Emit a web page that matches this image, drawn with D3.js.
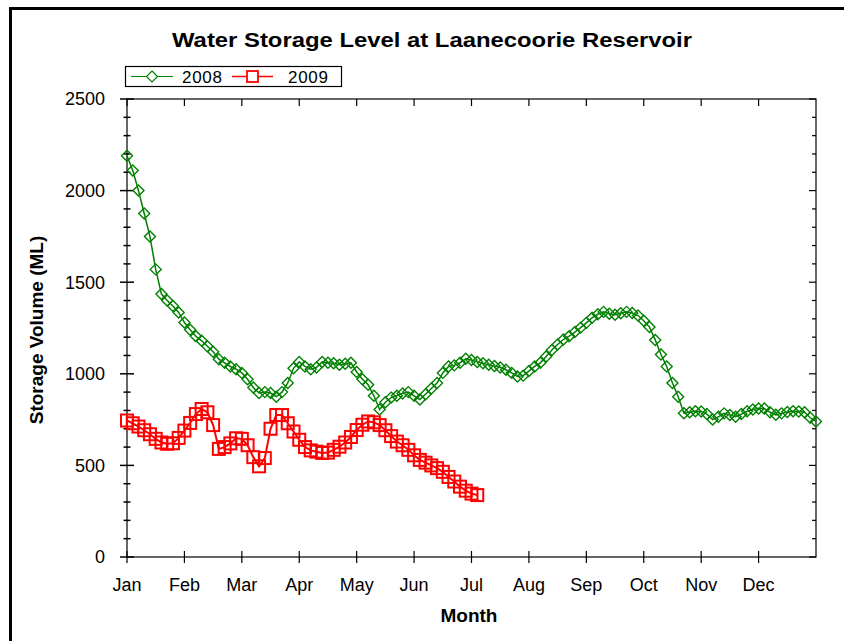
<!DOCTYPE html>
<html><head><meta charset="utf-8">
<script src="https://cdn.jsdelivr.net/npm/d3@7"></script>
<style>body{margin:0;background:#fff}svg{display:block}text{font-family:"Liberation Sans",Arial,sans-serif}</style>
</head><body>
<svg id="c" width="844" height="641"></svg>
<script>
const months = ["Jan","Feb","Mar","Apr","May","Jun","Jul","Aug","Sep","Oct","Nov","Dec"];
const yTicks = [0,500,1000,1500,2000,2500];
const stepMonths = 0.1;
const storage2008 = [2190,2110,2000,1875,1749,1570,1435,1400,1370,1335,1280,1240,1205,1180,1150,1120,1080,1060,1040,1025,
1005,970,925,895,900,895,875,900,950,1030,1065,1040,1025,1035,1065,1060,1057,1050,1055,1060,
1010,970,940,880,805,845,870,880,893,900,880,860,888,920,950,1005,1040,1046,1060,1082,
1075,1065,1057,1050,1042,1035,1022,1005,985,990,1015,1040,1060,1095,1130,1160,1187,1205,1228,1252,
1278,1306,1325,1338,1328,1322,1330,1338,1332,1318,1290,1255,1185,1105,1040,950,875,785,790,795,
794,780,750,765,784,775,766,780,795,805,810,810,790,776,784,792,795,794,790,760,740];
const storage2009 = [745,730,712,692,670,645,625,618,621,650,690,732,780,808,790,720,590,600,620,648,
645,610,545,495,540,700,775,775,730,685,640,600,582,575,568,570,585,602,625,655,
693,722,740,735,720,692,660,630,610,585,555,530,515,500,485,465,437,412,384,362,346,338];

const svg = d3.select("#c");
const x = d3.scaleLinear().domain([0,12]).range([127,816]);
const y = d3.scaleLinear().domain([0,2500]).range([557,99]);

// frame
svg.append("line").attr("x1",9).attr("x2",844).attr("y1",8.5).attr("y2",8.5).attr("stroke","#000").attr("stroke-width",3);
svg.append("line").attr("x1",10.5).attr("x2",10.5).attr("y1",7).attr("y2",641).attr("stroke","#000").attr("stroke-width",3);

// title
svg.append("text").attr("x",432).attr("y",47).attr("text-anchor","middle")
  .attr("font-size",20).attr("font-weight","bold").attr("textLength",520).attr("lengthAdjust","spacingAndGlyphs")
  .text("Water Storage Level at Laanecoorie Reservoir");

// axes
const minor = d3.range(0,2501,100);
const ax = svg.append("g").attr("stroke","#000").attr("fill","none");
ax.append("rect").attr("x",127).attr("y",99).attr("width",689).attr("height",458).attr("stroke-width",1.2);
minor.forEach(v=>{
  const maj = v%500===0; const L = maj?7:3.5;
  ax.append("line").attr("x1",127-L).attr("x2",127+L).attr("y1",y(v)).attr("y2",y(v)).attr("stroke-width",1.5);
  const R = maj?7:4;
  ax.append("line").attr("x1",816-R).attr("x2",816).attr("y1",y(v)).attr("y2",y(v)).attr("stroke-width",1.2);
});
d3.range(0,12).forEach(m=>{
  ax.append("line").attr("x1",x(m)).attr("x2",x(m)).attr("y1",557-6).attr("y2",557+6).attr("stroke-width",1.2);
  ax.append("line").attr("x1",x(m)).attr("x2",x(m)).attr("y1",99).attr("y2",99+7).attr("stroke-width",1.2);
});
const lab = svg.append("g").attr("font-size",18).attr("fill","#000");
yTicks.forEach(v=>{
  lab.append("text").attr("x",105).attr("y",y(v)).attr("dy","0.36em").attr("text-anchor","end").text(v);
});
months.forEach((mo,i)=>{
  lab.append("text").attr("x",x(i)).attr("y",591).attr("text-anchor","middle").text(mo);
});
svg.append("text").attr("x",469).attr("y",622).attr("text-anchor","middle").attr("font-size",19).attr("font-weight","bold").text("Month");
svg.append("text").attr("transform","translate(43,330) rotate(-90)").attr("text-anchor","middle").attr("font-size",19).attr("font-weight","bold").text("Storage Volume (ML)");

// series
const green = "#008000", red = "#ff0000";
const line = d3.line().x((d,i)=>x(i*stepMonths)).y(d=>y(d));
const diamond = (cx,cy,r)=>`M${cx},${cy-r}L${cx+r},${cy}L${cx},${cy+r}L${cx-r},${cy}Z`;
svg.append("path").datum(storage2008).attr("d",line).attr("fill","none").attr("stroke",green).attr("stroke-width",1.5);
svg.append("g").selectAll("path").data(storage2008).join("path")
  .attr("d",(d,i)=>diamond(x(i*stepMonths),y(d),5.5)).attr("fill","none").attr("stroke",green).attr("stroke-width",1.4);
svg.append("path").datum(storage2009).attr("d",line).attr("fill","none").attr("stroke",red).attr("stroke-width",2);
svg.append("g").selectAll("rect").data(storage2009).join("rect")
  .attr("x",(d,i)=>x(i*stepMonths)-6).attr("y",d=>y(d)-6).attr("width",12).attr("height",12)
  .attr("fill","none").attr("stroke",red).attr("stroke-width",2);

// legend
const lg = svg.append("g");
lg.append("rect").attr("x",125.5).attr("y",66.5).attr("width",216).attr("height",20).attr("fill","#fff").attr("stroke","#000").attr("stroke-width",1.2);
lg.append("line").attr("x1",131).attr("x2",173).attr("y1",76.5).attr("y2",76.5).attr("stroke",green).attr("stroke-width",1.2);
lg.append("path").attr("d",diamond(152,76.5,5.5)).attr("fill","#fff").attr("stroke",green).attr("stroke-width",1.2);
lg.append("text").attr("x",182).attr("y",83).attr("font-size",17).attr("textLength",40).text("2008");
lg.append("line").attr("x1",232).attr("x2",273).attr("y1",76.5).attr("y2",76.5).attr("stroke",red).attr("stroke-width",1.5);
lg.append("rect").attr("x",247).attr("y",71).attr("width",11).attr("height",11).attr("fill","#fff").attr("stroke",red).attr("stroke-width",1.8);
lg.append("text").attr("x",288).attr("y",83).attr("font-size",17).attr("textLength",40).text("2009");
</script>
</body></html>
